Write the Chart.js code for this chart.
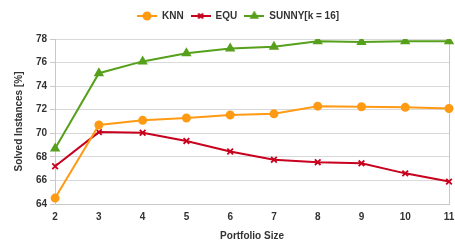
<!DOCTYPE html>
<html>
<head>
<meta charset="utf-8">
<script src="https://cdn.jsdelivr.net/npm/chart.js@4/dist/chart.umd.min.js"></script>
<style>
  html, body { margin: 0; padding: 0; background: #fff; }
  #wrap { width: 455px; height: 243px; position: relative; }
</style>
</head>
<body>
<div id="wrap"><canvas id="c"></canvas></div>
<script>
const sizes = ['2', '3', '4', '5', '6', '7', '8', '9', '10', '11'];
const knn = [64.5, 70.7, 71.1, 71.3, 71.55, 71.65, 72.3, 72.25, 72.2, 72.1];
const equ = [67.2, 70.1, 70.05, 69.35, 68.45, 67.75, 67.55, 67.45, 66.6, 65.9];
const sunny = [68.7, 75.1, 76.1, 76.8, 77.2, 77.35, 77.8, 77.75, 77.8, 77.8];
const yTicks = [64, 66, 68, 70, 72, 74, 76, 78];

const font = { family: '"Liberation Sans", Arial, sans-serif', size: 10, weight: 'bold' };
const ORANGE = '#ff9a14';
const RED = '#c8001e';
const GREEN = '#56a01c';

// legend swatch: short line with the marker in the middle
function swatch(color, style) {
  const c = document.createElement('canvas');
  c.width = 20; c.height = 10;
  const g = c.getContext('2d');
  g.strokeStyle = color; g.fillStyle = color; g.lineWidth = 2;
  g.beginPath(); g.moveTo(0, 5); g.lineTo(20, 5); g.stroke();
  Chart.helpers.drawPoint(g, { pointStyle: style, radius: 3.5, rotation: 0, borderWidth: 1.8 }, 10, 5);
  return c;
}

// right-hand border of the plot, and nudge the legend into place
const frame = {
  id: 'frame',
  afterLayout(chart) {
    const lg = chart.legend;
    lg.top -= 8; lg.bottom -= 8;
    lg.left += 7; lg.right += 7;
  },
  beforeDatasetsDraw(chart) {
    const { ctx, chartArea: a } = chart;
    ctx.save();
    ctx.strokeStyle = '#c8c8c8';
    ctx.lineWidth = 1;
    ctx.beginPath();
    ctx.moveTo(Math.round(a.right) + 0.5, a.top);
    ctx.lineTo(Math.round(a.right) + 0.5, a.bottom);
    ctx.stroke();
    ctx.restore();
  }
};

const styles = ['circle', 'crossRot', 'triangle'];

new Chart(document.getElementById('c'), {
  type: 'line',
  data: {
    labels: sizes,
    datasets: [
      { label: 'KNN', data: knn, borderColor: ORANGE, backgroundColor: ORANGE,
        pointStyle: 'circle', pointRadius: 3.5, borderWidth: 2 },
      { label: 'EQU', data: equ, borderColor: RED, backgroundColor: RED,
        pointStyle: 'crossRot', pointRadius: 4, pointBorderWidth: 1.8, borderWidth: 2 },
      { label: 'SUNNY[k = 16]', data: sunny, borderColor: GREEN, backgroundColor: GREEN,
        pointStyle: 'triangle', pointRadius: 4, borderWidth: 2 },
    ],
  },
  options: {
    responsive: true, maintainAspectRatio: false, animation: false,
    layout: { padding: { top: 12, right: 2, left: 9, bottom: 0 } },
    plugins: {
      legend: {
        labels: {
          font: font, color: '#333', usePointStyle: true, pointStyleWidth: 20,
          boxHeight: 10, padding: 7,
          generateLabels(chart) {
            return chart.data.datasets.map((d, i) => ({
              text: d.label, pointStyle: swatch(d.borderColor, styles[i]),
              fillStyle: d.borderColor, strokeStyle: d.borderColor,
              lineWidth: 0, fontColor: '#333', datasetIndex: i, hidden: false,
            }));
          },
        },
      },
      tooltip: { enabled: false },
    },
    scales: {
      x: {
        grid: { display: false, drawOnChartArea: false, tickLength: 5 },
        border: { color: '#c8c8c8' },
        ticks: { font: font, color: '#333', maxRotation: 0, padding: 2 },
        title: { display: true, text: 'Portfolio Size', font: font, color: '#333', padding: { top: 5, bottom: 1 } },
        afterFit(scale) { scale.paddingRight = 0; },
      },
      y: {
        min: 64, max: 78,
        afterBuildTicks(scale) { scale.ticks = yTicks.map(v => ({ value: v })); },
        grid: { color: '#d9d9d9', tickLength: 5, tickColor: '#c8c8c8' },
        border: { color: '#c8c8c8' },
        ticks: { font: font, color: '#333', padding: 3 },
        title: { display: true, text: 'Solved Instances [%]', font: font, color: '#333', padding: { bottom: 8 } },
      },
    },
  },
  plugins: [frame],
});
</script>
</body>
</html>
